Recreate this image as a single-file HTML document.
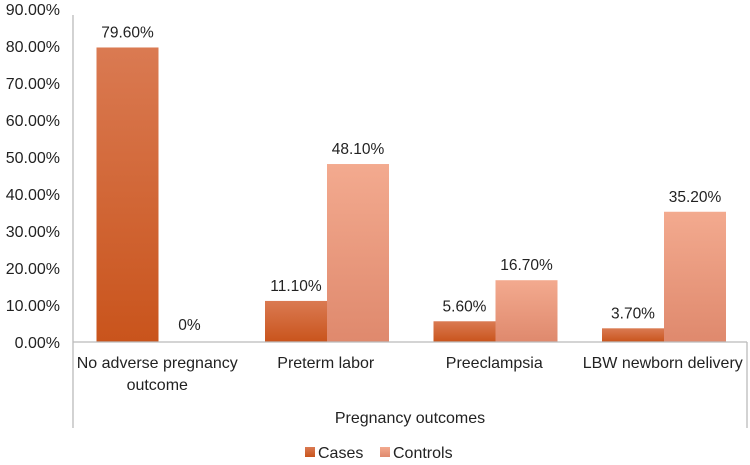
<!DOCTYPE html>
<html><head><meta charset="utf-8"><style>
body{margin:0;background:#fff;width:750px;height:460px;overflow:hidden}
svg text{font-family:"Liberation Sans",sans-serif;fill:#222}
</style></head><body>
<svg id="c" width="750" height="460">
<defs>
<linearGradient id="gc" x1="0" y1="0" x2="0" y2="1"><stop offset="0" stop-color="#DA7A52"/><stop offset="1" stop-color="#C9541C"/></linearGradient>
<linearGradient id="gk" x1="0" y1="0" x2="0" y2="1"><stop offset="0" stop-color="#F3AA8F"/><stop offset="1" stop-color="#DF896D"/></linearGradient>
</defs>
</svg>
<script>
const categories=[["No adverse pregnancy","outcome"],["Preterm labor"],["Preeclampsia"],["LBW newborn delivery"]];
const cases=[79.6,11.1,5.6,3.7];
const controls=[0,48.1,16.7,35.2];
const caseLabels=["79.60%","11.10%","5.60%","3.70%"];
const controlLabels=["0%","48.10%","16.70%","35.20%"];
const ticks=[0,10,20,30,40,50,60,70,80,90];
const svg=document.getElementById('c');const NS='http://www.w3.org/2000/svg';
const X0=73,X1=747,Y0=342,YT=9;
const y=v=>Y0-(v/90)*(Y0-YT);
const cw=(X1-X0)/categories.length;
function el(t,a,txt){const e=document.createElementNS(NS,t);for(const k in a)e.setAttribute(k,a[k]);if(txt!=null)e.textContent=txt;svg.appendChild(e);return e;}
ticks.forEach(t=>{const e=el('text',{x:60,y:y(t)+6,'text-anchor':'end','font-size':16},t.toFixed(2)+'%');

});
const ax=el('line',{x1:X0,y1:YT+6,x2:X0,y2:428,stroke:'#bbb','stroke-width':1.3});


const rb=el('line',{x1:X1,y1:Y0,x2:X1,y2:428,stroke:'#bbb','stroke-width':1.3});


const bw=62;
categories.forEach((c,i)=>{
 const cx=X0+i*cw, b1=cx+23.5, b2=b1+bw;
 const r1=el('rect',{x:b1,y:y(cases[i]),width:bw,height:Y0-y(cases[i]),fill:'url(#gc)'});
 
 
 const r2=el('rect',{x:b2,y:y(controls[i]),width:bw,height:Y0-y(controls[i]),fill:'url(#gk)'});
 
 
 const l1=el('text',{x:b1+bw/2,y:y(cases[i])-10,'text-anchor':'middle','font-size':15.5},caseLabels[i]);
 
 
 const l2=el('text',{x:b2+bw/2,y:y(controls[i])-10-(controls[i]===0?2:0),'text-anchor':'middle','font-size':15.5},controlLabels[i]);
 
 
 c.forEach((ln,j)=>{const t=el('text',{x:cx+cw/2,y:368+j*22,'text-anchor':'middle','font-size':16},ln);
 
 });
});
const xl=el('line',{x1:X0,y1:Y0,x2:X1,y2:Y0,stroke:'#bbb','stroke-width':1.3});


const xt=el('text',{x:410,y:423,'text-anchor':'middle','font-size':16},'Pregnancy outcomes');


[[305,'url(#gc)','Cases'],[380,'url(#gk)','Controls']].forEach(([lx,f,n])=>{
 const s=el('rect',{x:lx,y:447,width:10,height:10,fill:f});
 
 
 const t=el('text',{x:lx+13,y:458,'font-size':16},n);
 
 
});
</script>
</body></html>
